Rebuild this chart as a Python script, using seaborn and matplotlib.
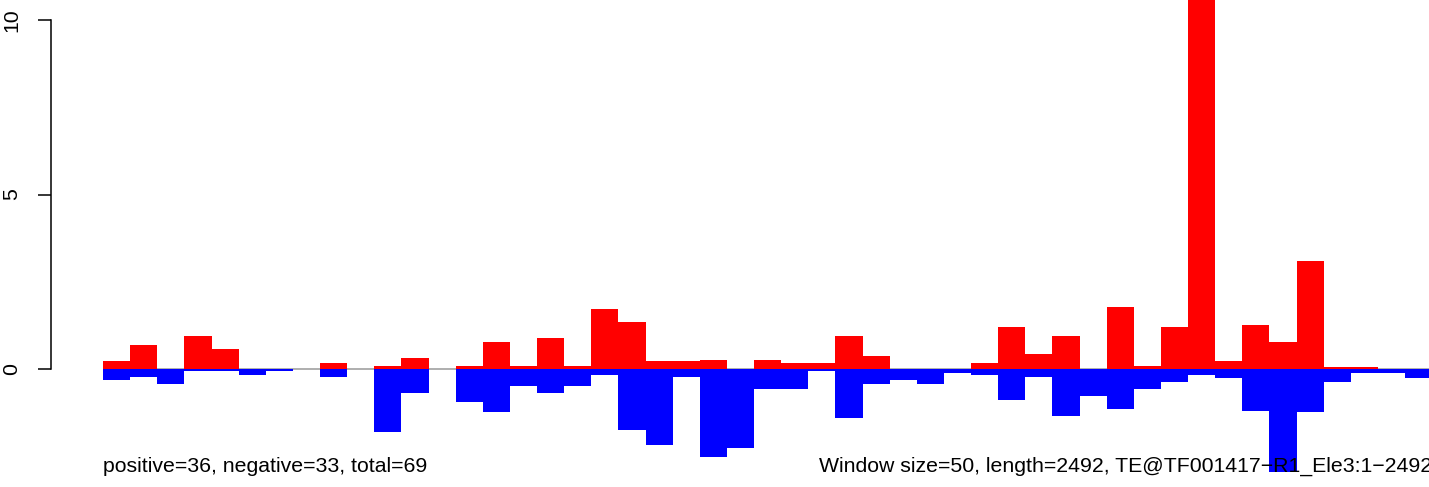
import numpy as np
import pandas as pd
import matplotlib
matplotlib.use("Agg")
import matplotlib.pyplot as plt
import seaborn as sns

# ==================================================
# DATA (50 windows of size 50 along a 2492 bp element)
# ==================================================
window_size = 50
seq_length = 2492

positive = [0.23, 0.68, 0.0, 0.94, 0.56, 0.0, 0.0, 0.0, 0.16, 0.0,
            0.10, 0.31, 0.0, 0.10, 0.76, 0.10, 0.88, 0.10, 1.71, 1.34,
            0.23, 0.23, 0.26, 0.0, 0.26, 0.16, 0.16, 0.94, 0.36, 0.0,
            0.0, 0.0, 0.16, 1.19, 0.42, 0.94, 0.0, 1.77, 0.10, 1.19,
            11.6, 0.22, 1.25, 0.76, 3.09, 0.05, 0.05, 0.0, 0.0, 0.0]

negative = [-0.31, -0.23, -0.43, -0.06, -0.06, -0.17, -0.06, 0.0, -0.23, 0.0,
            -1.80, -0.69, 0.0, -0.95, -1.23, -0.49, -0.69, -0.49, -0.17, -1.75,
            -2.18, -0.23, -2.52, -2.26, -0.57, -0.57, -0.06, -1.40, -0.43, -0.31,
            -0.43, -0.11, -0.17, -0.89, -0.23, -1.35, -0.77, -1.15, -0.58, -0.38,
            -0.18, -0.25, -1.21, -2.95, -1.23, -0.38, -0.11, -0.11, -0.27, 0.0]

yticks = [0, 5, 10]
left_label = "positive=36, negative=33, total=69"
right_label = "Window size=50, length=2492, TE@TF001417\u2212R1_Ele3:1\u22122492"

starts = np.arange(len(positive)) * window_size
df = pd.DataFrame({
    "center": starts + window_size / 2,
    "positive": positive,
    "negative": negative,
})

# ==================================================
# STYLE
# ==================================================
sns.set_theme(style="white")
plt.rcParams["font.family"] = ["Liberation Sans", "DejaVu Sans"]

fig = plt.figure(figsize=(14.29, 4.87), dpi=100)
ax = fig.add_axes([51 / 1429, 0.0, 1378 / 1429, 1.0])

# zero line
ax.hlines(0, 0, seq_length, color="#999999", linewidth=1.1, zorder=1)

# ==================================================
# BARS
# ==================================================
sns.barplot(data=df, x="center", y="positive", native_scale=True, width=1,
            color="#ff0000", saturation=1, linewidth=0, errorbar=None,
            ax=ax, zorder=2)
sns.barplot(data=df, x="center", y="negative", native_scale=True, width=1,
            color="#0000ff", saturation=1, linewidth=0, errorbar=None,
            ax=ax, zorder=2)

# ==================================================
# AXES
# ==================================================
px_per_unit = 34.9
ax.set_xlim(-96, 2444)
ax.set_ylim(-(487 - 369) / px_per_unit, 369 / px_per_unit)

for side in ["top", "right", "bottom"]:
    ax.spines[side].set_visible(False)
ax.spines["left"].set_bounds(0, 10)
ax.spines["left"].set_color("black")
ax.spines["left"].set_linewidth(1.1)

ax.set_xticks([])
ax.set_yticks(yticks)
ax.set_yticklabels([str(t) for t in yticks], rotation=90, va="center",
                   fontsize=15.3)
ax.tick_params(axis="y", left=True, length=9.4, width=1.1, pad=12,
               color="black", labelcolor="black")
ax.set_xlabel("")
ax.set_ylabel("")

# ==================================================
# ANNOTATIONS
# ==================================================
text_y = -(472 - 369) / px_per_unit
ax.text(0, text_y, left_label, ha="left", va="baseline", fontsize=15.3,
        color="black", zorder=5)
ax.text(1320, text_y, right_label, ha="left", va="baseline", fontsize=15.3,
        color="black", zorder=5)

fig.savefig("out.png", dpi=100)
plt.close(fig)
